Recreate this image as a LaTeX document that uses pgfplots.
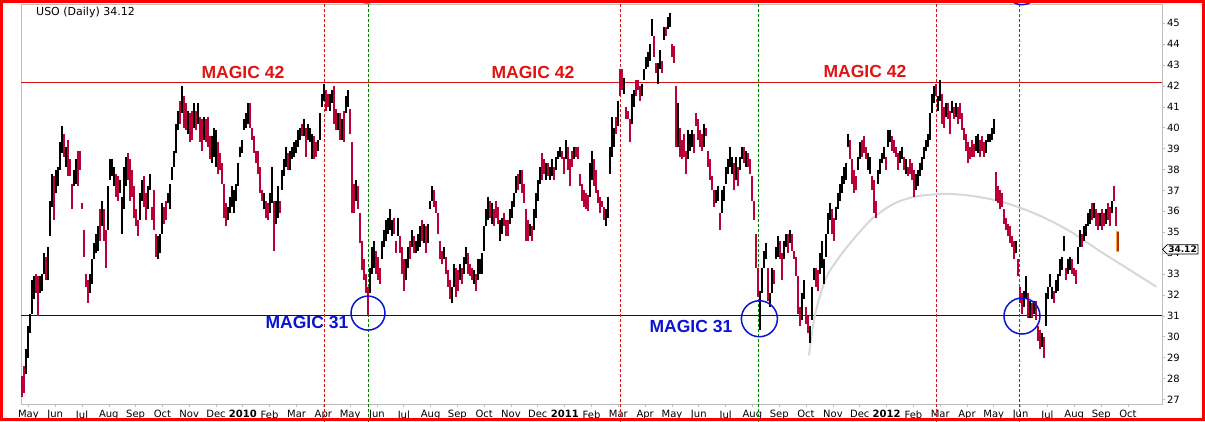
\documentclass[border=0pt]{standalone}
\usepackage{fontspec}
\setmainfont{DejaVu Sans}
\newfontfamily\arialfont{Liberation Sans}
\usepackage{pgfplots}
\usepackage{pgfplotstable}
\pgfplotsset{compat=1.18}
\usetikzlibrary{shapes.symbols}

\definecolor{barred}{RGB}{185,0,55}
\definecolor{magicred}{RGB}{225,20,20}
\definecolor{magicblue}{RGB}{10,20,210}
\definecolor{lineblue}{RGB}{0,0,200}
\definecolor{linered}{RGB}{210,20,20}
\definecolor{dashgreen}{RGB}{0,130,0}
\definecolor{axisgray}{RGB}{190,190,190}
\definecolor{arcgray}{RGB}{215,215,215}
\definecolor{lastorange}{RGB}{255,165,50}
\definecolor{lastbrown}{RGB}{170,45,10}

% x = bar number (about 1.6 trading days each), May 2009 - Sep 2012
\pgfplotstableread{
i lo hi
2 28.2 29.4
3 29.0 30.5
4 30.2 31.1
5 31.1 32.7
6 31.8 32.9
9 32.1 32.9
10 32.2 33.0
11 33.0 34.0
13 32.7 34.3
14 34.8 36.5
15 36.2 37.8
17 36.9 38.0
18 37.2 38.1
19 38.0 39.3
20 38.8 40.1
22 38.1 39.1
26 37.2 38.0
27 37.3 38.5
34 32.1 33.0
35 32.5 33.7
36 33.7 34.5
37 34.0 34.9
38 34.1 35.3
40 35.3 36.5
43 35.1 37.2
44 37.5 38.5
45 37.7 38.5
46 37.2 38.1
49 36.9 37.5
50 34.9 36.7
51 36.1 38.1
52 37.2 38.6
59 35.6 36.9
60 36.5 37.5
63 36.1 37.2
64 37.0 37.8
68 33.7 34.8
69 34.0 34.9
70 34.9 36.4
73 36.4 36.9
74 36.1 37.3
75 37.5 38.1
76 38.1 38.9
77 38.8 40.2
78 39.9 40.8
80 40.7 42.0
83 39.7 40.8
86 40.0 41.2
88 40.2 41.2
91 39.4 40.5
95 38.3 39.6
96 38.6 40.0
97 38.1 39.9
103 35.6 36.2
104 35.9 36.7
105 36.2 37.2
106 35.9 37.0
107 36.5 37.3
108 37.2 38.3
109 38.6 39.1
110 38.8 39.4
111 39.9 40.4
112 40.0 40.7
113 40.2 41.2
121 36.1 36.9
124 35.9 36.9
125 36.4 38.1
127 35.4 36.5
128 35.7 37.2
130 37.0 38.0
131 37.7 38.5
132 38.1 39.1
134 38.0 38.9
135 38.5 39.1
136 38.6 39.3
137 38.8 39.4
138 39.1 39.9
139 39.4 40.0
141 39.6 40.4
143 39.4 40.2
144 39.3 40.0
145 38.5 39.7
148 38.9 39.4
149 39.4 40.7
150 41.0 41.6
151 41.3 42.1
154 40.8 41.6
155 41.2 41.8
158 39.9 40.7
160 39.4 40.4
162 40.7 41.5
163 41.0 41.8
167 36.5 37.5
174 32.1 33.3
175 33.0 34.3
176 33.3 34.6
180 33.7 34.6
181 34.3 35.1
182 34.6 35.6
183 34.9 35.7
184 35.1 36.1
185 34.8 35.6
188 34.8 35.7
192 32.7 33.7
193 33.3 34.3
195 34.3 35.1
197 34.0 34.6
198 34.1 34.9
199 34.3 35.3
201 34.5 35.4
203 34.5 35.4
204 36.1 36.5
205 36.5 37.2
211 33.7 34.3
215 31.6 32.4
216 32.4 33.5
219 32.7 33.5
221 33.0 33.8
222 33.5 34.3
226 32.5 33.2
228 32.7 33.7
229 33.0 33.7
230 33.0 34.0
231 34.1 35.3
232 35.3 36.1
233 35.6 36.7
235 35.4 36.4
239 34.6 35.6
240 34.9 35.7
244 35.4 36.1
245 35.7 36.5
246 36.2 36.9
247 36.9 37.7
249 37.3 38.0
254 34.8 35.4
256 35.1 36.1
257 35.7 36.9
258 36.5 37.5
259 37.3 38.1
262 37.5 38.3
264 37.5 38.1
265 37.7 38.5
267 38.0 38.6
268 38.5 38.9
269 38.6 39.1
272 38.5 39.4
276 38.5 39.1
284 36.7 38.3
285 37.5 38.9
292 35.3 36.1
293 35.7 36.7
294 37.8 39.1
295 38.6 40.5
296 39.1 40.0
298 40.1 41.3
301 41.6 42.4
305 40.2 41.6
306 41.0 41.8
310 41.5 42.1
311 42.3 42.8
312 42.8 43.4
313 42.9 43.6
314 43.2 44.0
315 44.4 45.2
318 42.1 43.1
319 42.8 43.7
321 44.2 44.8
323 44.7 45.3
324 44.8 45.5
328 39.1 41.2
333 38.5 39.9
334 38.9 39.7
335 39.1 39.9
341 39.1 40.2
347 36.4 37.0
348 36.5 37.2
350 35.9 37.0
351 36.5 37.2
352 37.3 38.1
353 37.8 38.5
354 38.1 39.1
355 37.8 38.6
357 37.5 38.6
359 38.0 38.6
360 38.5 39.1
362 38.1 38.9
369 30.3 32.2
370 32.1 33.3
371 33.3 34.1
372 33.7 34.5
374 31.4 32.1
375 32.1 33.3
377 33.7 34.3
378 33.8 34.8
381 33.7 34.6
382 34.3 34.9
384 34.5 35.1
390 30.8 32.1
391 31.8 32.7
394 29.7 30.5
395 30.8 32.4
396 32.7 33.3
399 33.0 34.0
400 33.3 34.6
401 32.5 33.7
402 33.8 34.9
403 34.9 35.9
404 35.6 36.4
407 35.6 36.2
408 36.1 36.9
409 36.5 37.3
410 36.9 37.7
411 37.3 38.1
412 37.5 38.3
413 39.1 39.7
418 38.0 38.6
419 38.5 39.3
423 38.0 38.8
424 37.8 38.6
428 37.3 38.0
429 37.8 38.5
430 38.3 38.8
431 38.5 39.1
433 39.1 39.9
434 39.3 39.9
439 38.3 38.9
440 38.5 39.1
442 37.8 38.5
447 37.0 37.8
448 37.2 38.0
449 37.7 38.3
450 38.0 38.6
451 38.5 39.1
452 38.9 39.4
453 39.1 39.7
454 39.4 40.7
455 40.7 41.6
456 41.2 42.0
458 40.8 41.5
459 41.3 42.3
462 40.5 41.2
465 40.7 41.3
467 40.5 41.2
477 38.9 39.6
478 38.8 39.7
482 38.8 39.4
483 39.3 39.7
484 39.3 39.7
485 39.4 40.0
486 39.7 40.4
497 34.0 34.6
501 31.4 32.2
502 31.8 32.9
504 30.9 31.7
506 31.1 31.7
510 29.5 30.2
512 30.5 32.1
513 31.8 32.4
514 32.4 33.0
515 31.8 32.4
517 32.1 32.7
518 32.2 33.0
519 32.9 33.7
520 33.2 33.8
521 34.1 34.8
523 33.0 33.7
524 33.2 33.8
528 33.5 34.3
529 34.3 35.1
531 34.6 35.3
532 34.8 35.4
533 35.3 35.9
534 35.4 36.1
536 35.7 36.4
539 35.3 35.9
542 35.4 36.1
545 35.9 36.5
}\blackbars

\pgfplotstableread{
i lo hi
0 27.1 28.1
1 27.3 28.6
7 32.1 33.0
8 31.0 32.9
12 32.7 33.8
16 35.6 37.7
21 38.6 39.7
23 37.7 39.4
24 37.7 38.5
25 36.1 37.3
28 37.2 38.9
29 38.0 38.9
30 36.1 36.4
31 33.8 35.1
32 32.4 33.0
33 31.6 32.7
39 34.6 36.1
41 34.6 36.1
42 33.3 35.1
47 36.7 37.8
48 36.5 37.7
53 37.5 38.8
54 36.5 38.5
55 36.7 38.0
56 35.7 37.2
57 35.3 36.1
58 34.8 35.6
61 36.2 37.7
62 35.6 36.9
65 35.6 36.2
66 35.1 37.0
67 33.8 34.9
71 35.4 36.2
72 35.6 36.5
79 40.2 41.3
81 40.0 41.5
82 39.9 41.2
84 39.3 40.7
85 39.4 40.8
87 39.9 40.8
89 39.3 40.5
90 38.9 40.4
92 39.3 40.4
93 39.1 40.5
94 38.5 39.6
98 37.8 39.3
99 38.0 38.8
100 37.3 38.3
101 35.7 37.3
102 35.3 36.4
114 40.0 41.2
115 39.4 40.0
116 38.8 39.6
117 38.3 38.9
118 37.8 38.9
119 36.9 38.1
120 36.5 37.0
122 35.7 36.5
123 35.6 36.4
126 34.1 36.5
129 35.9 36.5
133 38.0 38.8
140 39.6 40.2
142 38.6 40.0
146 38.5 39.6
147 38.6 39.3
152 40.8 41.8
153 41.0 41.6
156 40.2 42.0
157 39.9 40.9
159 39.4 40.7
161 39.3 40.8
164 39.7 40.9
165 35.9 39.3
166 35.9 37.3
168 36.1 37.2
169 34.5 35.9
170 33.2 34.6
171 32.7 33.7
172 32.1 33.0
173 31.0 32.4
177 33.0 34.1
178 32.7 33.8
179 32.5 33.3
186 34.9 35.7
187 34.0 34.6
189 34.0 34.8
190 33.0 34.3
191 32.2 33.7
194 33.7 34.6
196 34.0 34.8
200 34.6 35.6
202 34.0 35.3
206 36.2 37.0
207 35.9 36.5
208 34.9 35.9
209 33.7 34.6
210 33.5 34.1
212 33.0 33.8
213 32.4 33.2
214 31.8 32.7
217 31.9 33.3
218 32.2 33.2
220 32.5 33.3
223 33.0 34.0
224 32.9 33.5
225 32.7 33.3
227 32.2 33.0
234 35.7 36.5
236 35.3 36.1
237 35.7 36.5
238 35.4 36.2
241 35.3 35.9
242 34.8 35.6
243 34.8 35.6
248 37.0 37.8
250 36.9 38.0
251 36.4 37.3
252 34.6 36.1
253 34.6 35.6
255 34.6 35.3
260 37.5 38.8
261 37.8 38.5
263 37.7 38.3
266 37.5 38.1
270 38.5 38.9
271 37.8 38.6
273 38.0 39.1
274 37.2 38.5
275 38.1 38.9
277 38.6 39.1
278 38.5 39.1
279 37.2 37.8
280 36.5 37.3
281 36.2 37.0
282 36.1 36.9
283 36.0 36.8
286 37.2 38.5
287 36.9 38.0
288 36.4 37.0
289 35.9 36.7
290 36.2 36.5
291 35.6 36.2
297 39.7 40.5
299 41.5 42.8
300 41.8 42.8
302 40.4 41.0
303 40.4 40.8
304 39.3 40.4
307 41.5 42.3
308 41.8 42.3
309 41.3 42.0
316 43.4 44.4
317 42.6 43.1
320 42.6 43.2
322 44.4 44.8
325 43.4 44.0
326 43.1 43.9
327 39.1 42.0
329 38.6 40.0
330 38.5 39.4
331 38.6 39.7
332 37.8 38.9
336 38.8 39.7
337 40.1 40.7
338 39.4 40.4
339 39.1 39.9
340 38.9 39.7
342 39.6 40.0
343 38.1 38.9
344 37.5 38.5
345 37.0 37.7
346 36.2 37.0
349 35.1 35.9
356 37.0 38.3
358 37.2 38.1
361 38.3 39.1
363 38.1 38.8
364 37.8 38.5
365 36.5 37.7
366 35.6 36.5
367 33.3 34.9
368 31.9 33.3
373 31.7 33.3
376 32.5 33.2
379 33.7 34.6
380 32.7 34.0
383 34.0 34.9
385 34.1 34.9
386 33.7 34.1
387 32.9 33.8
388 31.1 32.9
389 30.5 31.4
392 30.6 31.4
393 30.2 31.0
397 32.4 33.3
398 32.2 33.2
405 34.9 36.1
406 34.6 35.7
414 38.5 39.4
415 37.3 38.5
416 36.9 38.0
417 37.0 37.7
420 38.6 39.4
421 38.8 39.6
422 38.5 39.1
425 37.0 37.7
426 35.9 37.5
427 35.7 36.5
432 38.0 38.6
435 38.9 39.6
436 38.8 39.4
437 38.6 39.1
438 38.0 38.8
441 38.0 38.6
443 37.7 38.1
444 37.8 38.5
445 37.5 38.3
446 36.7 38.0
457 41.5 42.1
460 40.2 41.6
461 40.0 41.0
463 40.4 41.2
464 39.7 40.8
466 40.4 41.0
468 40.2 41.0
469 40.4 41.2
470 39.9 40.7
471 39.4 40.0
472 38.9 39.7
473 38.3 39.3
474 38.5 39.1
475 38.6 39.4
476 38.6 39.2
479 38.6 39.4
480 38.9 39.6
481 38.6 39.3
487 36.5 37.9
488 36.4 37.2
489 36.1 37.0
490 36.2 36.9
491 35.4 36.1
492 35.1 35.7
493 34.8 35.4
494 34.5 35.3
495 34.3 34.8
496 33.7 34.6
498 32.9 33.7
499 31.6 32.4
500 31.1 32.1
503 30.9 32.1
505 30.9 31.6
507 30.8 31.7
508 29.8 30.5
509 29.4 30.3
511 29.0 30.0
516 31.6 32.2
522 32.7 33.3
525 33.0 33.7
526 32.9 33.3
527 32.5 33.2
530 34.3 34.9
535 35.6 36.4
537 35.3 36.1
538 35.1 35.9
540 35.1 36.1
541 35.3 35.9
543 35.6 36.4
544 35.3 36.2
546 36.5 37.2
547 35.3 36.2
}\redbars

\begin{document}
\begin{tikzpicture}
\begin{axis}[
  at={(21pt,17pt)}, anchor=south west,
  scale only axis, width=1141pt, height=400pt,
  xmin=-0.5, xmax=570, ymin=26.78, ymax=45.92,
  clip=false,
  axis line style={axisgray, line width=0.8pt},
  xtick={3.2,16.6,30.0,43.4,56.8,70.2,83.6,97.0,110.4,123.8,137.3,150.7,164.1,177.5,190.9,204.3,217.7,231.1,244.5,257.9,271.4,284.8,298.2,311.6,325.0,338.4,351.8,365.2,378.6,392.0,405.5,418.9,432.3,445.7,459.1,472.5,485.9,499.3,512.7,526.1,539.6,553.0},
  xticklabels={May,Jun,Jul,Aug,Sep,Oct,Nov,Dec,\textbf{2010},Feb,Mar,Apr,May,Jun,Jul,Aug,Sep,Oct,Nov,Dec,\textbf{2011},Feb,Mar,Apr,May,Jun,Jul,Aug,Sep,Oct,Nov,Dec,\textbf{2012},Feb,Mar,Apr,May,Jun,Jul,Aug,Sep,Oct},
  ytick={27,28,...,45},
  xtick pos=bottom, ytick pos=right, yticklabel pos=right,
  tick align=outside, major tick length=3pt,
  tick style={axisgray, line width=0.6pt},
  x tick label style={font=\fontsize{10}{11}\selectfont},
  y tick label style={font=\fontsize{10}{11}\selectfont, xshift=-1.5pt},
  /pgf/number format/assume math mode=true,
]
% magic levels
\draw[linered, line width=0.9pt] (axis cs:-0.5,42.15) -- (axis cs:570,42.15);
\draw[lineblue, line width=0.9pt] (axis cs:-0.5,31.0) -- (axis cs:570,31.0);
% vertical marker lines
\draw[linered, line width=0.8pt, dash pattern=on 3pt off 2pt] (axis cs:151,25.9) -- (axis cs:151,46.2);
\draw[linered, line width=0.8pt, dash pattern=on 3pt off 2pt] (axis cs:299.2,25.9) -- (axis cs:299.2,46.2);
\draw[linered, line width=0.8pt, dash pattern=on 3pt off 2pt] (axis cs:457.4,25.9) -- (axis cs:457.4,46.2);
\draw[dashgreen, line width=0.8pt, dash pattern=on 3pt off 2pt] (axis cs:173,25.9) -- (axis cs:173,46.2);
\draw[dashgreen, line width=0.8pt, dash pattern=on 3pt off 2pt] (axis cs:368.2,25.9) -- (axis cs:368.2,46.2);
\draw[dashgreen, line width=0.8pt, dash pattern=on 3pt off 2pt] (axis cs:498.5,25.9) -- (axis cs:498.5,46.2);

% gray arc
\addplot[arcgray, line width=2pt, smooth, tension=0.5] coordinates {
  (393.5,29.1) (394.7,30.0) (396.3,30.95) (399,31.95) (403,33.0)
  (411.3,34.15) (419.7,35.1) (426.3,35.75) (436.3,36.38) (446.3,36.7)
  (456.3,36.81) (464.7,36.83) (475.5,36.73) (489.7,36.46) (506.3,35.9)
  (523,35.1) (539.7,34.05) (556.3,33.05) (567.2,32.39)
};

% price bars (high-low)
\addplot[draw=none, mark=none, error bars/.cd, y dir=minus, y explicit,
  error mark=none, error bar style={draw=black, line width=1.9pt}]
  table[x=i, y=hi, y error expr={\thisrow{hi}-\thisrow{lo}}] {\blackbars};
\addplot[draw=none, mark=none, error bars/.cd, y dir=minus, y explicit,
  error mark=none, error bar style={draw=barred, line width=1.9pt}]
  table[x=i, y=hi, y error expr={\thisrow{hi}-\thisrow{lo}}] {\redbars};
% latest bar
\addplot[draw=none, mark=none, error bars/.cd, y dir=minus, y explicit,
  error mark=none, error bar style={draw=lastorange, line width=3pt}]
  coordinates {(548,35.05) -= (0,1.0)};
\addplot[draw=none, mark=none, error bars/.cd, y dir=minus, y explicit,
  error mark=none, error bar style={draw=lastbrown, line width=1.3pt}]
  coordinates {(548,35.0) -= (0,0.9)};

% circles
\draw[magicblue, line width=1.5pt] (axis cs:173,31.13) circle[radius=17pt];
\draw[magicblue, line width=1.5pt] (axis cs:368.7,30.86) circle[radius=18pt];
\draw[magicblue, line width=1.5pt] (axis cs:500,30.99) circle[radius=18pt];
\draw[magicblue, line width=1.5pt] (axis cs:172.5,46.79) circle[radius=17pt];
\draw[magicblue, line width=1.5pt] (axis cs:500,46.7) circle[radius=17pt];

% labels
\node[font=\arialfont\bfseries\fontsize{17.5}{18}\selectfont, text=magicred, inner sep=0pt] at (axis cs:110.5,42.64) {MAGIC 42};
\node[font=\arialfont\bfseries\fontsize{17.5}{18}\selectfont, text=magicred, inner sep=0pt] at (axis cs:255.5,42.64) {MAGIC 42};
\node[font=\arialfont\bfseries\fontsize{17.5}{18}\selectfont, text=magicred, inner sep=0pt] at (axis cs:421.5,42.67) {MAGIC 42};
\node[font=\arialfont\bfseries\fontsize{17.5}{18}\selectfont, text=magicblue, inner sep=0pt] at (axis cs:142.5,30.70) {MAGIC 31};
\node[font=\arialfont\bfseries\fontsize{17.5}{18}\selectfont, text=magicblue, inner sep=0pt] at (axis cs:334.5,30.51) {MAGIC 31};

% last price tag
\node[signal, signal to=west, draw=black, fill=white, line width=0.7pt, inner sep=1.2pt,
  font=\bfseries\fontsize{9}{10}\selectfont, anchor=west] at (axis cs:570,34.18) {34.12};
\end{axis}
\node[anchor=west, inner sep=0pt, font=\fontsize{11}{12}\selectfont] at (36pt,409pt) {USO (Daily) 34.12};
\draw[red, line width=3pt] (1.5pt,1.5pt) rectangle (1203.5pt,419.5pt);
\pgfresetboundingbox
\useasboundingbox (0,0) rectangle (1205pt,421pt);
\end{tikzpicture}
\end{document}
